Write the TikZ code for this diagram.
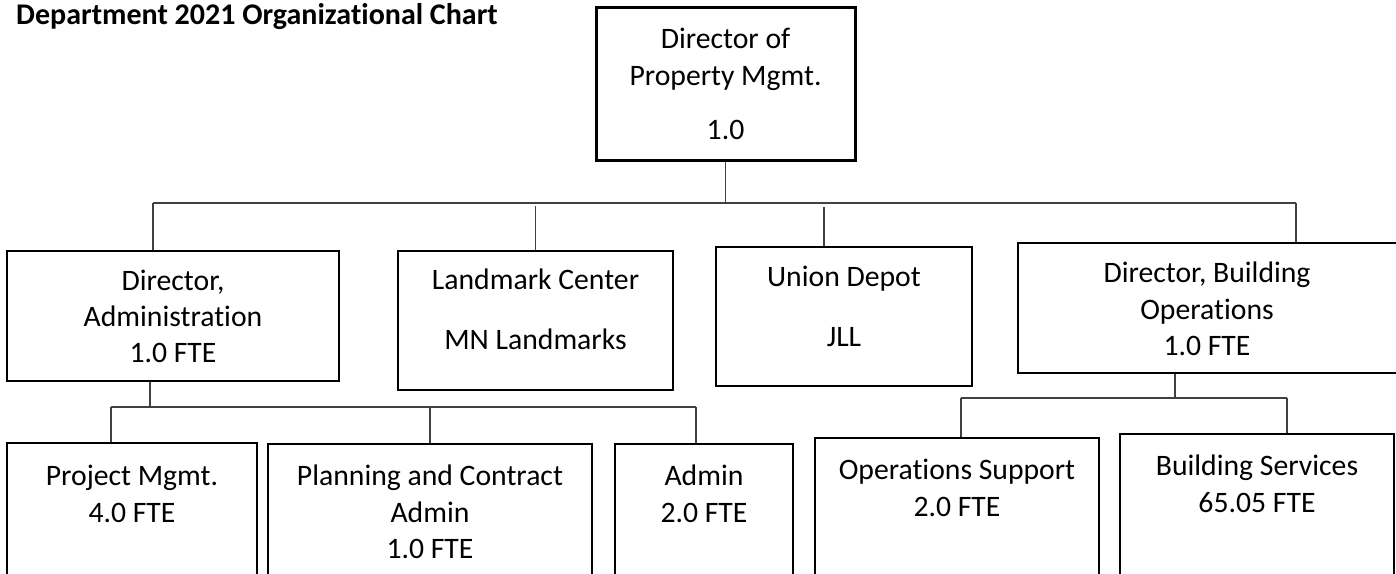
\documentclass[tikz,border=0pt]{standalone}
\usepackage{fontspec}
\setmainfont{Carlito}[Ligatures=NoCommon]
% invisible strut fixing the top of each text block above its first baseline
\newcommand{\capstrut}{\rule{0pt}{25pt}}
\begin{document}
\begin{tikzpicture}[x=1pt,y=-1pt,
  box/.style={draw=black, line width=2pt, inner sep=0pt},
  txt/.style={anchor=north, inner sep=0pt, align=center,
              font=\fontsize{29.7}{36.3}\selectfont},
  conn/.style={draw=black!75, line width=1.3pt}]
\useasboundingbox (0,0) rectangle (1396,573);

% heading
\node[anchor=base west, inner sep=0pt,
      font=\fontsize{30}{36}\selectfont\bfseries] (title) at (16,24)
      {Department 2021 Organizational Chart};

% boxes
\node[box, line width=3pt, minimum width=259pt, minimum height=153pt] (top) at (725.5,83.5) {};
\node[box, minimum width=332pt, minimum height=130pt] (dadm)  at (173,316) {};
\node[box, minimum width=275pt, minimum height=139pt] (land)  at (535.5,320.5) {};
\node[box, minimum width=256pt, minimum height=139pt] (union) at (844,316.5) {};
\node[box, line width=2.3pt, minimum width=380pt, minimum height=130pt] (dbld) at (1208,308) {};
\node[box, minimum width=250pt, minimum height=142pt] (proj)  at (132,514) {};
\node[box, minimum width=324pt, minimum height=141pt] (plan)  at (430,514.5) {};
\node[box, minimum width=178pt, minimum height=141pt] (adm)   at (704,514.5) {};
\node[box, minimum width=284pt, minimum height=147pt] (ops)   at (957,511.5) {};
\node[box, line width=2.3pt, minimum width=274pt, minimum height=151pt] (bsvc) at (1257,509.5) {};

% box texts
\node[txt] (topT)   at (725.5,23.5) {\capstrut Director of\\Property Mgmt.\\[17.7pt]1.0};
\node[txt] (dadmT)  at (173,265)    {\capstrut Director,\\Administration\\1.0 FTE};
\node[txt] (landT)  at (535.5,264)  {\capstrut Landmark Center\\[23.7pt]MN Landmarks};
\node[txt] (unionT) at (844,261)    {\capstrut Union Depot\\[23.7pt]JLL};
\node[txt] (dbldT)  at (1207,257.5) {\capstrut Director, Building\\Operations\\1.0 FTE};
\node[txt] (projT)  at (132,460.5)  {\capstrut Project Mgmt.\\4.0 FTE};
\node[txt] (planT)  at (430,460.5)  {\capstrut Planning and Contract\\Admin\\1.0 FTE};
\node[txt] (admT)   at (704,460.5)  {\capstrut Admin\\2.0 FTE};
\node[txt] (opsT)   at (957,454.5)  {\capstrut Operations Support\\2.0 FTE};
\node[txt] (bsvcT)  at (1257,450.5) {\capstrut Building Services\\65.05 FTE};

% first level connectors
\coordinate (busL) at (153,203);
\coordinate (busR) at (1296,203);
\coordinate (uTop) at (824,207);
\draw[conn] (top.south) -- (top.south |- busL);
\draw[conn] (busL) -- (busR);
\draw[conn] (busL) -- (busL |- dadm.north);
\draw[conn] (land.north) -- ++(0,-44);
\draw[conn] (uTop) -- (uTop |- union.north);
\draw[conn] (busR) -- (busR |- dbld.north);

% administration branch
\coordinate (aBusL) at (111,407);
\coordinate (aBusR) at (696,407);
\draw[conn] ([xshift=-23pt]dadm.south) -- ([xshift=-23pt]dadm.south |- aBusL);
\draw[conn] (aBusL) -- (aBusR);
\draw[conn] (aBusL) -- (aBusL |- proj.north);
\draw[conn] (plan.north |- aBusL) -- (plan.north);
\draw[conn] (aBusR) -- (aBusR |- adm.north);

% building operations branch
\coordinate (bBusL) at (961,398);
\coordinate (bBusR) at (1287,398);
\draw[conn] ([xshift=-33pt]dbld.south) -- ([xshift=-33pt]dbld.south |- bBusL);
\draw[conn] (bBusL) -- (bBusR);
\draw[conn] (bBusL) -- (bBusL |- ops.north);
\draw[conn] (bBusR) -- (bBusR |- bsvc.north);
\end{tikzpicture}
\end{document}
